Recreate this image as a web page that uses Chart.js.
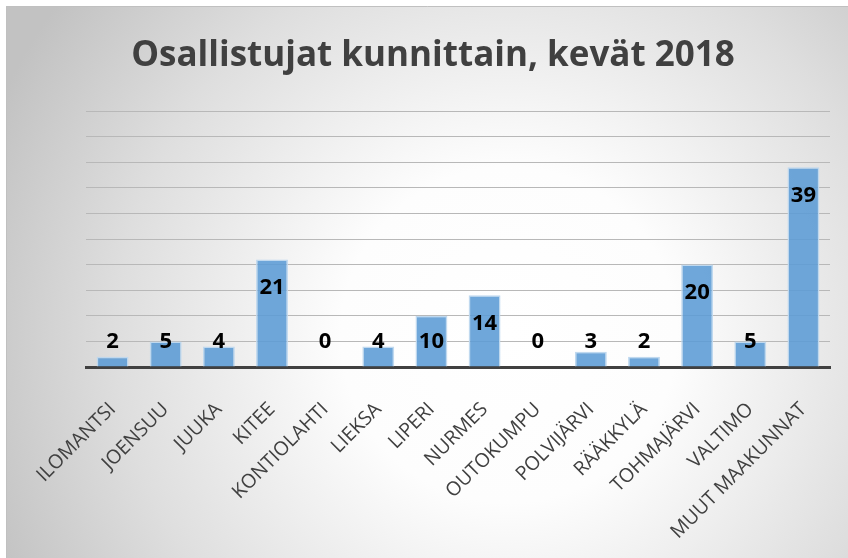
<!DOCTYPE html>
<html>
<head>
<meta charset="utf-8">
<script src="https://cdn.jsdelivr.net/npm/chart.js@4.4.1/dist/chart.umd.min.js"></script>
<style>
  html, body { margin: 0; padding: 0; background: #ffffff; }
  #wrap { width: 848px; height: 558px; position: relative; }
</style>
</head>
<body>
<div id="wrap"><canvas id="c" width="848" height="558"></canvas></div>
<script>
const titleText = 'Osallistujat kunnittain, kevät 2018';
const categories = ['ILOMANTSI', 'JOENSUU', 'JUUKA', 'KITEE', 'KONTIOLAHTI', 'LIEKSA', 'LIPERI', 'NURMES', 'OUTOKUMPU', 'POLVIJÄRVI', 'RÄÄKKYLÄ', 'TOHMAJÄRVI', 'VALTIMO', 'MUUT MAAKUNNAT'];
const participants = [2, 5, 4, 21, 0, 4, 10, 14, 0, 3, 2, 20, 5, 39];
const yMin = 0;
const yMax = 50;
const yStep = 5;

const backgroundPlugin = {
  id: 'bg',
  beforeDraw(chart) {
    const ctx = chart.ctx;
    const w = chart.width, h = chart.height;
    ctx.save();
    ctx.fillStyle = '#ffffff';
    ctx.fillRect(0, 0, w, h);
    const g = ctx.createRadialGradient(w * 0.6, h * 0.6, 0, w * 0.6, h * 0.6, 560);
    g.addColorStop(0, '#ffffff');
    g.addColorStop(0.3, '#fdfdfd');
    g.addColorStop(0.7, '#dedede');
    g.addColorStop(1, '#c2c2c2');
    ctx.fillStyle = g;
    ctx.fillRect(6, 6, w - 6, h - 6);
    ctx.strokeStyle = '#c0c0c0';
    ctx.lineWidth = 1;
    ctx.beginPath();
    ctx.moveTo(6.5, h);
    ctx.lineTo(6.5, 6.5);
    ctx.lineTo(w, 6.5);
    ctx.stroke();
    ctx.restore();
  }
};

const labelPlugin = {
  id: 'valueLabels',
  afterDatasetsDraw(chart) {
    const ctx = chart.ctx;
    const meta = chart.getDatasetMeta(0);
    const yScale = chart.scales.y;
    const base = yScale.getPixelForValue(0);
    ctx.save();
    ctx.font = 'bold 22px "Open Sans", sans-serif';
    ctx.fillStyle = '#000000';
    ctx.textAlign = 'center';
    ctx.textBaseline = 'middle';
    meta.data.forEach((bar, i) => {
      const y = Math.min(bar.y + 28, base - 25);
      ctx.fillText(String(participants[i]), bar.x, y);
    });
    ctx.restore();
  }
};

new Chart(document.getElementById('c'), {
  type: 'bar',
  data: {
    labels: categories,
    datasets: [{
      data: participants,
      backgroundColor: 'rgba(91,155,213,0.88)',
      borderColor: 'rgba(189,215,238,0.95)',
      borderWidth: 1.5,
      barPercentage: 0.6,
      categoryPercentage: 1.0
    }]
  },
  options: {
    responsive: false,
    animation: false,
    layout: { padding: { left: 36, right: 18, top: 0, bottom: 0 } },
    plugins: {
      legend: { display: false },
      tooltip: { enabled: false },
      title: {
        display: true,
        text: titleText,
        color: '#404040',
        font: { family: '"Open Sans", sans-serif', size: 35, weight: 'bold' },
        padding: { top: 35, bottom: 34 }
      }
    },
    scales: {
      x: {
        grid: { display: false },
        border: { display: true, color: '#404040', width: 3 },
        ticks: {
          color: '#404040',
          font: { family: '"Open Sans", sans-serif', size: 19.5 },
          minRotation: 45,
          maxRotation: 45,
          autoSkip: false,
          padding: 23
        },
        afterFit(scale) { scale.height = 191; }
      },
      y: {
        min: yMin,
        max: yMax,
        ticks: { display: false, stepSize: yStep },
        grid: { color: '#b8b8b8', lineWidth: 1, drawTicks: false },
        border: { display: false },
        afterFit(scale) { scale.width = 50; }
      }
    }
  },
  plugins: [backgroundPlugin, labelPlugin]
});
</script>
</body>
</html>
